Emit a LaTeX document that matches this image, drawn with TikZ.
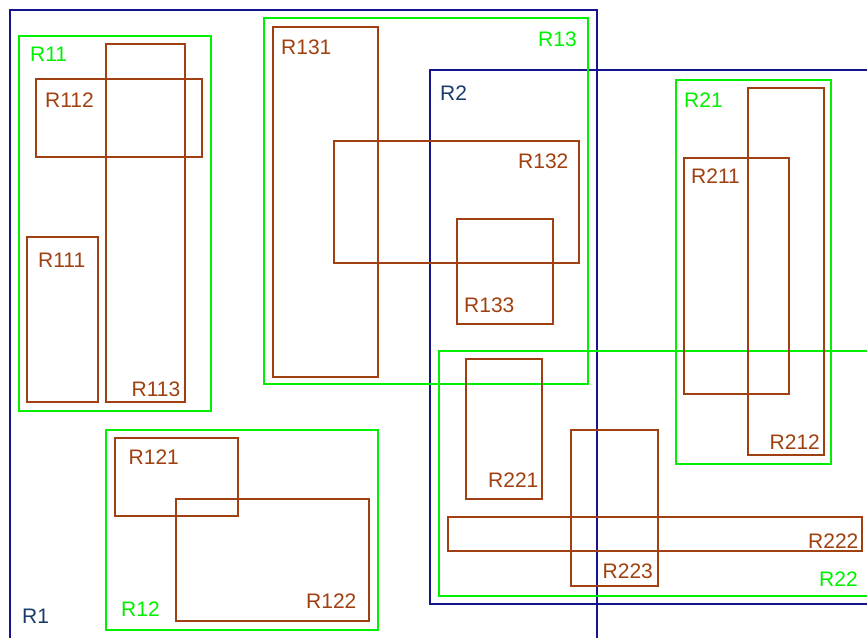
\documentclass[tikz,border=0pt]{standalone}
\usepackage{fontspec}
\setmainfont{Liberation Sans}
\definecolor{navyline}{RGB}{20,20,140}
\definecolor{navytext}{RGB}{25,60,110}
\definecolor{greenline}{RGB}{0,240,0}
\definecolor{brownline}{RGB}{160,64,16}
\begin{document}
\begin{tikzpicture}[x=1pt,y=-1pt,
  lvone/.style={draw=navyline,line width=2pt},
  lvtwo/.style={draw=greenline,line width=2pt},
  leaf/.style={draw=brownline,line width=2pt},
  lab/.style={anchor=base west,inner sep=0pt,font=\fontsize{21}{24}\selectfont},
  labone/.style={lab,text=navytext},
  labtwo/.style={lab,text=greenline},
  lableaf/.style={lab,text=brownline}]
\useasboundingbox (0,0) rectangle (867,637);
\clip (0,0) rectangle (867,637);
% level 1
\draw[lvone] (10,10) rectangle (597,660);
\draw[lvone] (430,70) rectangle (900,604);
% level 2
\draw[lvtwo] (19,36) rectangle (211,411);
\draw[lvtwo] (106,430) rectangle (378,630);
\draw[lvtwo] (264,18) rectangle (588,384);
\draw[lvtwo] (676,80) rectangle (831,464);
\draw[lvtwo] (439,351) rectangle (900,596);
% leaves
\draw[leaf] (36,79) rectangle (202,157);
\draw[leaf] (106,44) rectangle (185,402);
\draw[leaf] (27,237) rectangle (98,402);
\draw[leaf] (115,438) rectangle (238,516);
\draw[leaf] (176,499) rectangle (369,621);
\draw[leaf] (273,27) rectangle (378,377);
\draw[leaf] (334,141) rectangle (579,263);
\draw[leaf] (457,219) rectangle (553,324);
\draw[leaf] (684,158) rectangle (789,394);
\draw[leaf] (748,88) rectangle (824,455);
\draw[leaf] (466,359) rectangle (542,499);
\draw[leaf] (448,517) rectangle (862,551);
\draw[leaf] (571,430) rectangle (658,586);
% labels
\node[labone] (tR1) at (22,623) {R1};
\node[labone] (tR2) at (440,100) {R2};
\node[labtwo] (tR11) at (30,61) {R11};
\node[labtwo] (tR12) at (121,616) {R12};
\node[labtwo] (tR13) at (538,46) {R13};
\node[labtwo] (tR21) at (684,107) {R21};
\node[labtwo] (tR22) at (819,586) {R22};
\node[lableaf] (tR111) at (38,267) {R111};
\node[lableaf] (tR112) at (45,107) {R112};
\node[lableaf] (tR113) at (131.5,396) {R113};
\node[lableaf] (tR121) at (128.5,464) {R121};
\node[lableaf] (tR122) at (306,608) {R122};
\node[lableaf] (tR131) at (281,54) {R131};
\node[lableaf] (tR132) at (518,168) {R132};
\node[lableaf] (tR133) at (464,312) {R133};
\node[lableaf] (tR211) at (691,183) {R211};
\node[lableaf] (tR212) at (769.5,449) {R212};
\node[lableaf] (tR221) at (488,487.5) {R221};
\node[lableaf] (tR222) at (808,548) {R222};
\node[lableaf] (tR223) at (602.5,578.5) {R223};
\end{tikzpicture}
\end{document}
